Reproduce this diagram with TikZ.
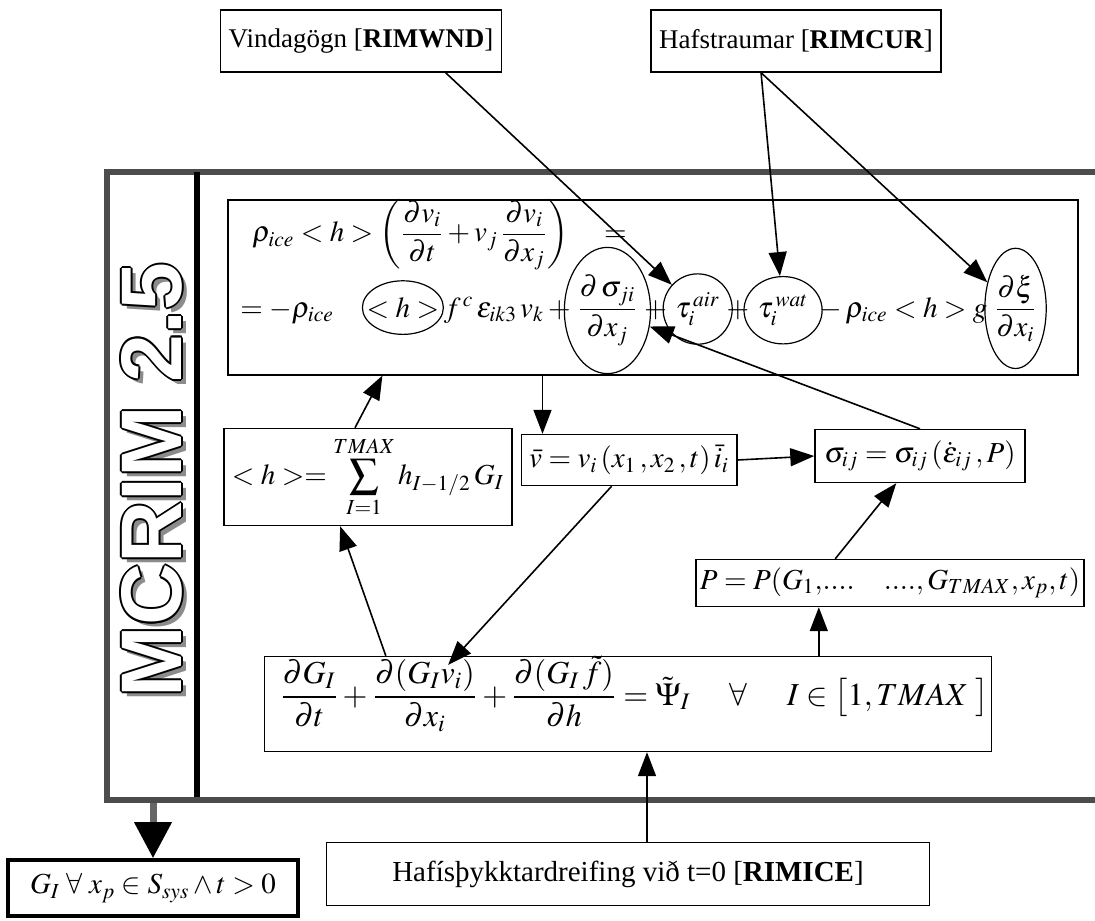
\documentclass[tikz,border=0pt]{standalone}
\usepackage{amsmath}
\usepackage{mathptmx}
\usepackage{fontspec}
\setmainfont{Liberation Serif}
\setsansfont{Liberation Sans}
\usetikzlibrary{arrows.meta,calc,positioning,shapes.geometric,fit}
\newcommand{\eqfont}{\fontsize{14.5}{17}\selectfont}
\newcommand{\txtfont}{\fontsize{13.5}{16}\selectfont}
\tikzset{
  kassi/.style={
    draw,
    line width=.7pt,
    align=center,
    inner sep=4pt,
    font=\eqfont
  },
  inntak/.style={
    kassi,
    font=\txtfont
  },
  lid/.style={
    inner sep=0pt,
    font=\eqfont
  },
  lidh/.style={
    lid,
    inner xsep=1pt,
    inner ysep=4pt
  },
  hringur/.style={
    draw,
    ellipse,
    inner sep=0pt,
    line width=.6pt
  },
  rammastill/.style={
    draw=black!70,
    line width=3pt
  },
  merkistill/.style={
    rotate=90,
    font=\sffamily\bfseries\fontsize{43}{43}\selectfont
  },
  arrow/.style={
    -{Triangle[length=12pt,width=9pt]},
    line width=.8pt
  }
}

\begin{document}
\begin{tikzpicture}[x=0.5pt,y=-0.5pt]
\useasboundingbox (0,0) rectangle (1095,920);
% inntaksgogn
\node[inntak, minimum width=139pt, minimum height=31pt] (wnd) at (361,41) {Vindagögn [\textbf{RIMWND}]};
\node[inntak, minimum width=141.5pt, minimum height=31pt] (cur) at (796,41) {Hafstraumar [\textbf{RIMCUR}]};
% rammi likansins
\node[rammastill, minimum width=506.5pt, minimum height=314pt] (rammi) at (613.5,486) {};
\draw[line width=3pt] (197,172) -- (197,797);
\coordinate (mpos) at (152,480);
\node[merkistill, text=black!45] at ($(mpos)+(2.5pt,-2.5pt)$) {MCRIM 2.5};
\foreach \a in {0,45,...,315}
  \node[merkistill, text=black] at ($(mpos)+(\a:0.9pt)$) {MCRIM 2.5};
\node[merkistill, text=white] (merki) at (mpos) {MCRIM 2.5};
% hreyfijafna
\node[kassi, line width=.6pt, minimum width=425pt, minimum height=87.5pt] (hreyfi) at (653,287.5) {};
\node[lid, anchor=west] (lina1) at (252,235) {$\displaystyle\rho_{ice} < h > \left(\frac{\partial v_i}{\partial t}+v_j\,\frac{\partial v_i}{\partial x_j}\right)\quad =$};
\node[lid, anchor=base west] (r1) at (240,317) {$=-\rho_{ice}$};
\node[lidh, inner xsep=-4pt, anchor=base west] (e1) at ([xshift=20pt]r1.base east) {$<h>$};
\node[lid, anchor=base west] (r2) at ([xshift=6pt]e1.base east) {$f^{\,c}\,\varepsilon_{ik3}\,v_k+{}$};
\node[lidh, inner xsep=0pt, inner ysep=4.5pt, anchor=base west] (e2) at ([xshift=1pt]r2.base east) {$\dfrac{\partial\,\sigma_{ji}}{\partial x_j}$};
\node[lid, anchor=base west] (r3) at ([xshift=3pt]e2.base east) {$+$};
\node[lidh, anchor=base west] (e3) at ([xshift=3pt]r3.base east) {$\tau_i^{\,air}$};
\node[lid, anchor=base west] (r4) at ([xshift=2pt]e3.base east) {$+$};
\node[lidh, anchor=base west] (e4) at ([xshift=3pt]r4.base east) {$\tau_i^{\,wat}$};
\node[lid, anchor=base west] (r5) at ([xshift=2pt]e4.base east) {${}-\rho_{ice} < h > g$};
\node[lidh, inner xsep=0pt, inner ysep=4.5pt, anchor=base west] (e5) at ([xshift=3pt]r5.base east) {$\dfrac{\partial\xi}{\partial x_i}$};
\foreach \i in {1,...,5}
  \node[hringur, fit=(e\i)] (s\i) {};
% adrar jofnur
\node[kassi, minimum width=135pt, minimum height=47.5pt] (hsum) at (368,477) {$\displaystyle <h>=\sum_{I=1}^{TMAX}h_{I-1/2}\,G_I$};
\node[kassi, minimum width=106pt, minimum height=25.5pt] (vel) at (629,460) {$\bar{v}=v_i\,(x_1\,,x_2\,,t)\,\bar{i}_i$};
\node[kassi, minimum width=105pt, minimum height=26.5pt] (sig) at (920,456) {$\sigma_{ij}=\sigma_{ij}\,(\dot{\varepsilon}_{ij}\,,P)$};
\node[kassi, inner xsep=2pt, minimum width=185pt, minimum height=23.5pt] (P) at (890,583) {$P=P(G_1,\!....\quad....,G_{TMAX},x_p,t)$};
% thykktardreifing
\node[kassi, minimum width=363.5pt, minimum height=47.5pt] (boteq) at (628,704) {};
\node[lid, font=\fontsize{16}{19}\selectfont, anchor=base west] (b1) at (280,705) {$\dfrac{\partial G_I}{\partial t}+{}$};
\node[lid, font=\fontsize{16}{19}\selectfont, anchor=base west] (b2) at (b1.base east) {$\dfrac{\partial(G_I v_i)}{\partial x_i}$};
\node[lid, font=\fontsize{16}{19}\selectfont, anchor=base west] (b3) at (b2.base east) {${}+\dfrac{\partial(G_I\,\tilde{f})}{\partial h}=\tilde{\Psi}_I\quad\;\forall\quad\; I\in\big[1,TMAX\;\big]$};
\node[inntak, font=\fontsize{14.5}{17}\selectfont, minimum width=301.5pt, minimum height=31.5pt] (hafis) at (628,874) {Hafísþykktardreifing við t=0 [\textbf{RIMICE}]};
\node[kassi, line width=1.8pt, minimum width=145pt, minimum height=28pt] (nidur) at (153,888) {$G_I\;\forall\;x_p\in S_{sys}\wedge t>0$};
% orvar
\coordinate (wndfot) at ($(wnd.south west)!0.8!(wnd.south east)$);
\coordinate (curfot) at ($(cur.south west)!0.38!(cur.south east)$);
\draw[arrow] (wndfot) -- (s3);
\draw[arrow] (curfot) -- (s4);
\draw[arrow] (curfot) -- (s5);
\draw[arrow] ([xshift=-6.5pt]hsum.north) -- ($(hreyfi.south west)+(155,0)$);
\coordinate (velinn) at ($(vel.north west)+(22,0)$);
\draw[arrow] (hreyfi.south -| velinn) -- (velinn);
\draw[arrow] (vel.east) -- (sig.west);
\draw[arrow] (sig.north) -- (s2);
\draw[arrow] ($(vel.south west)!0.42!(vel.south east)$) -- ($(b2.north west)!0.72!(b2.north east)+(0,6)$);
\coordinate (botA) at ($(boteq.north west)+(122,0)$);
\draw[arrow] (botA) -- ($(hsum.south west)+(117,0)$);
\coordinate (botB) at ($(boteq.north west)+(555,0)$);
\draw[arrow] (botB) -- (botB |- P.south);
\draw[arrow] ($(P.north west)+(140,0)$) -- ($(sig.south west)+(82,0)$);
\draw[arrow] ([xshift=9.5pt]hafis.north) -- ([xshift=9.5pt]hafis.north |- boteq.south);
\draw[line width=3.5pt, draw=black!60, -{Triangle[length=18pt,width=18pt,color=black,fill=black]}] (rammi.south -| nidur.north) -- (nidur.north);
\end{tikzpicture}
\end{document}
